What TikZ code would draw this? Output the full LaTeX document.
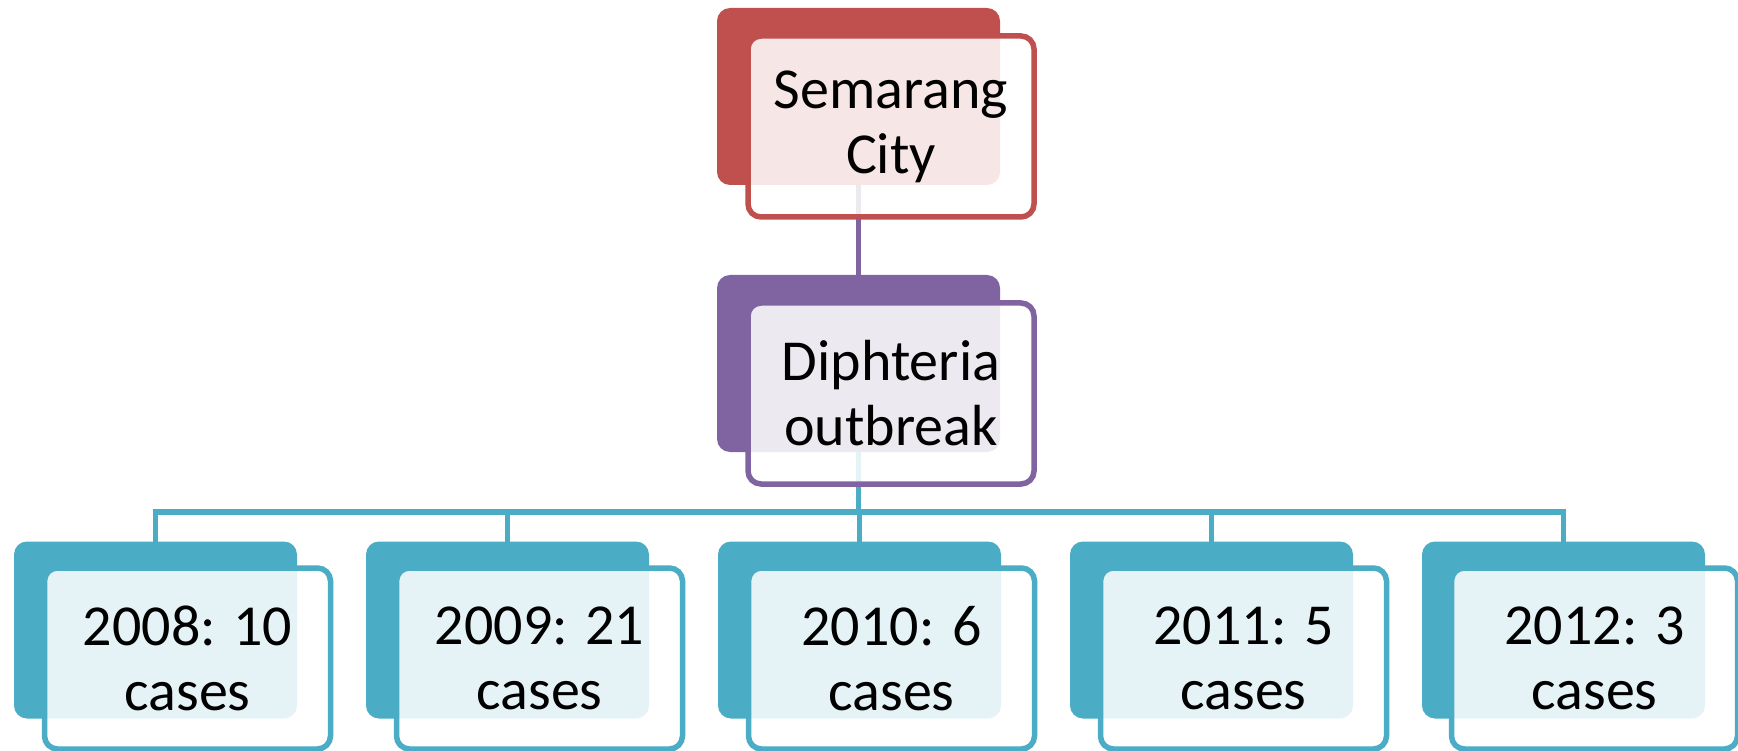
\documentclass[tikz,border=0pt]{standalone}
\usepackage{fontspec}
\setmainfont{Carlito}
\definecolor{sred}{HTML}{C0504D}
\definecolor{spurple}{HTML}{8064A2}
\definecolor{saqua}{HTML}{4BACC6}
\tikzset{
  backbox/.style={rectangle, rounded corners=13pt, minimum width=283pt, minimum height=177pt, inner sep=0pt, outer sep=0pt, fill=#1},
  frontbox/.style={rectangle, rounded corners=13pt, minimum width=286pt, minimum height=181pt, inner sep=0pt, outer sep=0pt, draw=#1, line width=5.5pt, fill=white, fill opacity=0.86, text opacity=1, align=center, font=\fontsize{58}{65}\selectfont},
  conn/.style={line width=5.5pt, draw=#1},
}
\begin{document}
\begin{tikzpicture}[x=1pt,y=-1pt]
\useasboundingbox (0,0) rectangle (1738,751);
\fill[white] (0,0) rectangle (1738,751);
\coordinate (bar) at (0,512);
% connectors (behind)
\coordinate (tbc) at (858.5,96.5);
\coordinate (mbc) at (858.5,363.5);
\draw[conn=spurple] (tbc) -- (mbc);
\foreach \k in {0,...,4}{
  \coordinate (bc\k) at ({155.5+352*\k},630);
  \draw[conn=saqua] (mbc) -- (mbc |- bar) -| (bc\k);
}
% top
\node[backbox=sred] (tb) at (tbc) {};
\node[frontbox=sred] (tf) at (891,126.5) {Semarang\\City};
% middle
\node[backbox=spurple] (mb) at (mbc) {};
\node[frontbox=spurple] (mf) at (891,393.5) {Diphteria\\outbreak};
% bottom
\node[backbox=saqua] (b0) at (bc0) {};
\node[frontbox=saqua] (f0) at (187.5,658.5) {2008: 10\\cases};
\node[backbox=saqua] (b1) at (bc1) {};
\node[frontbox=saqua] (f1) at (539.5,658.5) {2009: 21\\cases};
\node[backbox=saqua] (b2) at (bc2) {};
\node[frontbox=saqua] (f2) at (891.5,658.5) {2010: 6\\cases};
\node[backbox=saqua] (b3) at (bc3) {};
\node[frontbox=saqua] (f3) at (1243.5,658.5) {2011: 5\\cases};
\node[backbox=saqua] (b4) at (bc4) {};
\node[frontbox=saqua] (f4) at (1594.5,658.5) {2012: 3\\cases};
\end{tikzpicture}
\end{document}
